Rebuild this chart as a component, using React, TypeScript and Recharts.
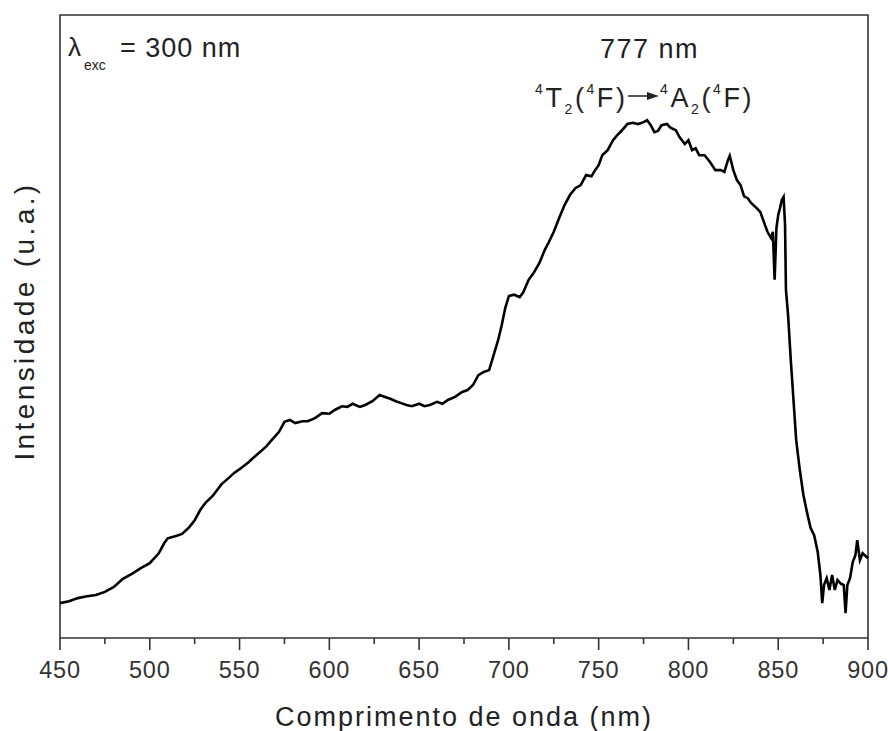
import { LineChart, Line, XAxis, YAxis, ReferenceArea } from 'recharts'

// wavelength (nm) and emission intensity (a.u., 0-1000 scale)
const wavelength = [
  450, 455, 460, 465, 470, 475, 480, 485, 490, 495, 500, 505, 508, 510, 515, 518, 522, 525, 528, 531,
  535, 540, 544, 547, 550, 555, 558, 562, 565, 568, 572, 575, 578, 581, 585, 588, 592, 596, 600, 603,
  607, 610, 613, 617, 620, 624, 628, 631, 634, 637, 640, 643, 646, 650, 653, 656, 660, 663, 666, 670,
  674, 677, 680, 683, 686, 689, 692, 694, 696, 698, 700, 703, 706, 708, 711, 714, 717, 720, 722, 725,
  728, 731, 734, 737, 740, 743, 746, 748, 750, 752, 755, 758, 760, 763, 766, 769, 772, 775, 777, 779,
  781, 783, 785, 788, 790, 793, 795, 798, 800, 802, 804, 806, 809, 812, 815, 818, 820, 822, 823, 825,
  827, 829, 831, 833, 835, 838, 840, 842, 844, 846, 847, 848, 849, 850, 851, 852, 853, 853.8, 854.3, 855.5,
  857, 858.5, 860, 862, 864, 866, 868, 870, 872, 873.5, 874.5, 875.5, 877, 878.5, 880, 881.5, 883, 885, 886.5, 887.5,
  888.5, 890, 891.5, 893, 894, 895.5, 897, 900,
]

const intensity = [
  56, 59, 64, 67, 69, 74, 82, 95, 103, 112, 120, 136, 152, 160, 164, 167, 178, 189, 205, 217,
  228, 247, 257, 265, 271, 282, 290, 300, 308, 318, 331, 347, 350, 345, 348, 348, 353, 361, 360, 366,
  372, 371, 376, 371, 374, 380, 390, 387, 384, 380, 377, 374, 372, 376, 372, 374, 379, 376, 382, 387,
  395, 398, 406, 422, 427, 430, 459, 478, 502, 530, 549, 551, 547, 555, 575, 587, 602, 623, 634, 652,
  674, 695, 711, 722, 727, 743, 741, 751, 759, 775, 783, 799, 806, 815, 825, 827, 825, 828, 831, 823,
  812, 814, 823, 825, 819, 815, 804, 793, 799, 783, 786, 775, 775, 764, 751, 751, 748, 767, 774, 751,
  735, 727, 709, 706, 698, 690, 684, 668, 652, 642, 652, 575, 658, 679, 690, 703, 708, 663, 559, 518,
  446, 382, 318, 270, 230, 202, 177, 165, 138, 101, 56, 85, 96, 77, 101, 77, 93, 87, 85, 40,
  85, 96, 122, 133, 157, 125, 136, 128,
]

const xTicks = [450, 475, 500, 525, 550, 575, 600, 625, 650, 675, 700, 725, 750, 775, 800, 825, 850, 875, 900]

const data = wavelength.map((nm, i) => ({ nm, value: intensity[i] }))

const ink = '#333'
const font = '"Liberation Sans", Arial, sans-serif'

function XTick({ x, y, payload }: any) {
  const major = payload.value % 50 === 0
  return (
    <g>
      <line x1={x} x2={x} y1={y} y2={y + (major ? 12 : 6)} stroke={ink} strokeWidth={1.6} />
      {major && (
        <text x={x} y={y + 40} textAnchor="middle" fontSize={23.5} letterSpacing={0.8} fill={ink} fontFamily={font}>
          {payload.value}
        </text>
      )}
    </g>
  )
}

export default function App() {
  return (
    <div style={{ position: 'absolute', left: 0, top: 0, width: 888, height: 731, background: '#fff' }}>
      <LineChart width={888} height={731} data={data} margin={{ top: 15, right: 20, left: 0, bottom: 13 }}>
        <XAxis
          type="number"
          dataKey="nm"
          domain={[450, 900]}
          ticks={xTicks}
          interval={0}
          tick={<XTick />}
          tickSize={0}
          tickMargin={0}
          tickLine={false}
          axisLine={false}
          height={80}
        />
        <YAxis domain={[0, 1000]} tick={false} tickLine={false} axisLine={false} width={60} />
        <ReferenceArea x1={450} x2={900} y1={0} y2={1000} fill="none" stroke={ink} strokeWidth={1.6} />
        <Line
          type="linear"
          dataKey="value"
          stroke="#000"
          strokeWidth={2.6}
          dot={false}
          isAnimationActive={false}
        />
      </LineChart>
      <svg
        width={888}
        height={731}
        style={{ position: 'absolute', left: 0, top: 0, pointerEvents: 'none' }}
        fontFamily={font}
        fill="#222"
      >
        <text x={464} y={726} textAnchor="middle" fontSize={27} letterSpacing={2}>
          Comprimento de onda (nm)
        </text>
        <text
          transform="translate(34,321) rotate(-90)"
          textAnchor="middle"
          fontSize={28}
          letterSpacing={3.4}
        >
          Intensidade (u.a.)
        </text>

        <text x={68} y={56} fontSize={26}>λ</text>
        <text x={84} y={70} fontSize={14}>exc</text>
        <text x={120} y={57} fontSize={27} letterSpacing={1}>= 300 nm</text>

        <text x={600} y={58} fontSize={27} letterSpacing={1.5}>777 nm</text>

        <text x={535} y={107} fontSize={27} letterSpacing={2.6}>
          <tspan fontSize={14} dy={-13}>4</tspan>
          <tspan dy={13}>T</tspan>
          <tspan fontSize={14} dy={7}>2</tspan>
          <tspan dy={-7}>(</tspan>
          <tspan fontSize={14} dy={-13}>4</tspan>
          <tspan dy={13}>F)</tspan>
        </text>
        <line x1={628} x2={650} y1={96} y2={96} stroke="#222" strokeWidth={1.5} />
        <polygon points="647,92 659,96 647,100" fill="#222" />
        <text x={660} y={107} fontSize={27} letterSpacing={2.6}>
          <tspan fontSize={14} dy={-13}>4</tspan>
          <tspan dy={13}>A</tspan>
          <tspan fontSize={14} dy={7}>2</tspan>
          <tspan dy={-7}>(</tspan>
          <tspan fontSize={14} dy={-13}>4</tspan>
          <tspan dy={13}>F)</tspan>
        </text>
      </svg>
    </div>
  )
}
